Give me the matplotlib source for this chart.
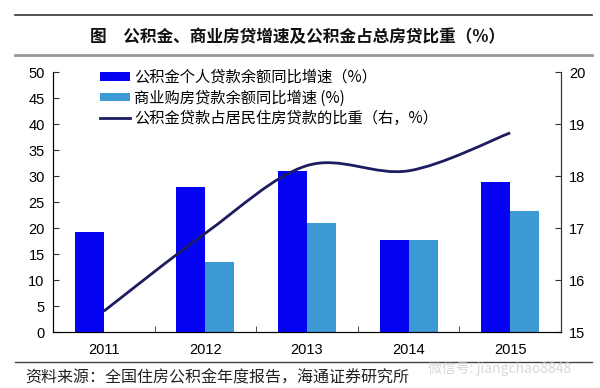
import matplotlib
matplotlib.use("Agg")
import matplotlib.pyplot as plt
import numpy as np
from matplotlib.path import Path
from matplotlib.patches import PathPatch
from matplotlib.lines import Line2D
from matplotlib.patches import Patch

plt.rcParams['font.family'] = ['Liberation Sans', 'Noto Sans CJK SC', 'DejaVu Sans']

years = ['2011', '2012', '2013', '2014', '2015']
gjj_growth = [19.2, 27.8, 31.0, 17.6, 28.9]
comm_growth = [0, 13.4, 21.0, 17.6, 23.2]
gjj_share = [15.4, 16.9, 18.2, 18.1, 18.83]

labels = ['公积金个人贷款余额同比增速（%）', '商业购房贷款余额同比增速 (%)', '公积金贷款占居民住房贷款的比重（右，%）']
title = '图　公积金、商业房贷增速及公积金占总房贷比重（%）'
source = '资料来源：全国住房公积金年度报告，海通证券研究所'

c_dark = '#0404F2'
c_light = '#3B9AD3'
c_line = '#1C1C60'

fig = plt.figure(figsize=(6, 3.88), dpi=100)
ax = fig.add_axes([53/600, 1-332/388, (561-53)/600, (332-72)/388])
x = np.arange(len(years))
w = 0.285
ax.bar(x - w/2, gjj_growth, width=w, color=c_dark, zorder=2)
ax.bar(x + w/2, comm_growth, width=w, color=c_light, zorder=2)
ax.set_xlim(-0.5, len(years) - 0.5)
ax.set_ylim(0, 50)
ax.set_yticks(np.arange(0, 51, 5))
ax.set_xticks(x)
ax.set_xticklabels(years)
ax.set_xticks(np.arange(0.5, len(years) - 0.5, 1), minor=True)
ax.tick_params(axis='x', which='major', length=0, labelsize=10.5, pad=8)
ax.tick_params(axis='x', which='minor', direction='in', length=4, color='#333333')
ax.tick_params(axis='y', direction='in', length=4, labelsize=10.5, color='#333333', pad=6)
ax.spines['top'].set_visible(False)
for s in ['left', 'right', 'bottom']:
    ax.spines[s].set_color('#333333')

ax2 = ax.twinx()
ax2.set_ylim(15, 20)
ax2.set_yticks(np.arange(15, 21, 1))
ax2.tick_params(axis='y', direction='in', length=4, labelsize=10.5, color='#333333', pad=6)
ax2.spines['top'].set_visible(False)
ax2.spines['right'].set_color('#333333')

# smoothed line (cubic Bezier segments through the data points)
pts = np.column_stack([x.astype(float), np.array(gjj_share)])
n = len(pts)
verts = [tuple(pts[0])]
codes = [Path.MOVETO]
for i in range(n - 1):
    p0 = pts[max(i - 1, 0)]
    p1 = pts[i]
    p2 = pts[i + 1]
    p3 = pts[min(i + 2, n - 1)]
    c1 = p1 + (p2 - p0) / 6.0
    c2 = p2 - (p3 - p1) / 6.0
    verts += [tuple(c1), tuple(c2), tuple(p2)]
    codes += [Path.CURVE4] * 3
ax2.add_patch(PathPatch(Path(verts, codes), facecolor='none', edgecolor=c_line, lw=2.0, zorder=3))

handles = [Patch(facecolor=c_dark), Patch(facecolor=c_light), Line2D([0], [0], color=c_line, lw=2)]
leg = ax.legend(handles, labels, loc='upper left', bbox_to_anchor=(0.08, 1.035), frameon=False,
                prop={'family': ['Noto Sans CJK SC', 'DejaVu Sans'], 'size': 11},
                handlelength=2.0, handleheight=0.45, handletextpad=0.25, labelspacing=0.22,
                borderaxespad=0)

# title and source with rules
fig.add_artist(Line2D([15/600, 592/600], [1-15/388, 1-15/388], color='#333333', lw=1.2))
fig.add_artist(Line2D([15/600, 592/600], [1-55/388, 1-55/388], color='#999999', lw=2.0))
fig.text(298/600, 1-37/388, title, ha='center', va='center', fontsize=12, fontweight='bold',
         family=['Noto Sans CJK SC', 'DejaVu Sans'], color='#111111')
fig.add_artist(Line2D([15/600, 592/600], [1-362/388, 1-362/388], color='#444444', lw=1.0))
fig.text(25/600, 1-378/388, source, ha='left', va='center', fontsize=11.5,
         family=['Noto Sans CJK SC', 'DejaVu Sans'], color='#222222')
fig.text(428/600, 1-368/388, '微信号: jiangchao8848', ha='left', va='center', fontsize=10,
         family=['Noto Sans CJK SC', 'DejaVu Sans'], color='#c8c8c8', alpha=0.7)

fig.savefig('out.png', dpi=100)
